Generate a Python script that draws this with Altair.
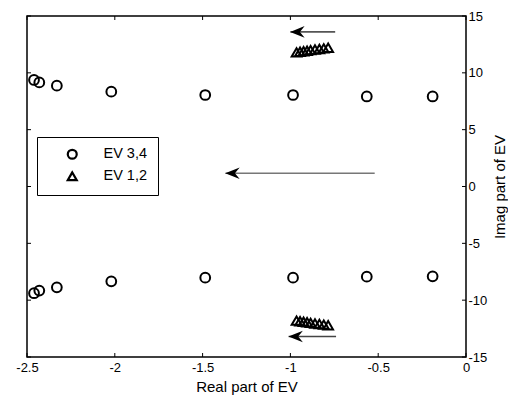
import altair as alt
import pandas as pd

# Eigenvalue traces
ev34_re = [-2.46, -2.43, -2.33, -2.02, -1.485, -0.985, -0.565, -0.19]
ev34_im_upper = [9.37, 9.16, 8.87, 8.34, 8.05, 8.05, 7.92, 7.92]
ev34_im_lower = [-9.39, -9.16, -8.87, -8.34, -8.02, -8.02, -7.93, -7.9]

ev12_re = [-0.965, -0.945, -0.925, -0.905, -0.885, -0.86, -0.835, -0.81, -0.785]
ev12_im_upper = [11.8, 11.85, 11.9, 11.95, 12.0, 12.05, 12.1, 12.15, 12.2]
ev12_im_lower = [-11.8, -11.85, -11.9, -11.95, -12.0, -12.05, -12.1, -12.15, -12.2]

# Arrows (start x, end x, y)
arrow_x_start = [-0.745, -0.52, -0.74]
arrow_x_end = [-1.0, -1.37, -1.01]
arrow_y = [13.6, 1.16, -13.2]
arrow_color = ["#555555", "#777777", "#444444"]

x_ticks = [-2.5, -2.0, -1.5, -1.0, -0.5, 0.0]
y_ticks = [-15, -10, -5, 0, 5, 10, 15]

series_names = ["EV 3,4", "EV 1,2"]

W, H = 439, 341
FONT = "Liberation Sans"

rows = []
for x, y in zip(ev34_re, ev34_im_upper):
    rows.append({"re": x, "im": y, "series": "EV 3,4"})
for x, y in zip(ev34_re, ev34_im_lower):
    rows.append({"re": x, "im": y, "series": "EV 3,4"})
for x, y in zip(ev12_re, ev12_im_upper):
    rows.append({"re": x, "im": y, "series": "EV 1,2"})
for x, y in zip(ev12_re, ev12_im_lower):
    rows.append({"re": x, "im": y, "series": "EV 1,2"})
pts = pd.DataFrame(rows)

arrows = pd.DataFrame({"x0": arrow_x_start, "x1": arrow_x_end, "y": arrow_y, "c": arrow_color})
xt = pd.DataFrame({"v": x_ticks})
yt = pd.DataFrame({"v": y_ticks})

xscale = alt.Scale(domain=[-2.5, 0], nice=False, zero=False)
yscale = alt.Scale(domain=[-15, 15], nice=False, zero=False)

xaxis = alt.Axis(values=x_ticks, ticks=False, domain=False, grid=False, labelFontSize=13,
                 labelFont=FONT, labelColor="black", labelPadding=4, title="Real part of EV",
                 titleFont=FONT, titleFontSize=15, titleFontWeight="normal", titleColor="black",
                 titlePadding=5, labelFlush=False, labelExpr="toString(datum.value)")
yaxis = alt.Axis(values=y_ticks, orient="right", ticks=False, domain=False, grid=False,
                 labelFontSize=13, labelFont=FONT, labelColor="black", labelPadding=2,
                 title="Imag part of EV", titleFont=FONT, titleFontSize=15,
                 titleFontWeight="normal", titleColor="black", titleAngle=270,
                 titlePadding=21, labelFlush=False, labelExpr="toString(datum.value)")

points = alt.Chart(pts).mark_point(filled=False, strokeWidth=2, color="black", opacity=1).encode(
    x=alt.X("re:Q", scale=xscale, axis=xaxis),
    y=alt.Y("im:Q", scale=yscale, axis=yaxis),
    shape=alt.Shape("series:N",
                    scale=alt.Scale(domain=series_names, range=["circle", "triangle-up"]),
                    legend=alt.Legend(title=None, orient="none", legendX=10, legendY=121,
                                      strokeColor="black", fillColor="white", padding=10,
                                      symbolOffset=18, labelOffset=24, labelFontSize=14.5,
                                      labelFont=FONT, labelColor="black", rowPadding=3,
                                      symbolStrokeColor="black", symbolStrokeWidth=2.2,
                                      symbolFillColor="transparent", symbolSize=80,
                                      symbolOpacity=1, cornerRadius=0)),
    size=alt.value(95),
)

arrow_lines = alt.Chart(arrows).mark_rule(strokeWidth=1.6).encode(
    x=alt.X("x0:Q", scale=xscale),
    x2="x1:Q",
    y=alt.Y("y:Q", scale=yscale),
    color=alt.Color("c:N", scale=None),
)

head_path = "M -1 0 L 1 -0.8 L 0.35 0 L 1 0.8 Z"
arrow_heads = alt.Chart(arrows).mark_point(shape=head_path, filled=True, color="black",
                                           opacity=1, xOffset=7, size=210).encode(
    x=alt.X("x1:Q", scale=xscale),
    y=alt.Y("y:Q", scale=yscale),
)

tick_len = 4
xt_bottom = alt.Chart(xt).mark_rule(color="black", strokeWidth=1).encode(
    x=alt.X("v:Q", scale=xscale), y=alt.value(H), y2=alt.value(H - tick_len))
xt_top = alt.Chart(xt).mark_rule(color="black", strokeWidth=1).encode(
    x=alt.X("v:Q", scale=xscale), y=alt.value(0), y2=alt.value(tick_len))
yt_left = alt.Chart(yt).mark_rule(color="black", strokeWidth=1).encode(
    y=alt.Y("v:Q", scale=yscale), x=alt.value(0), x2=alt.value(tick_len))
yt_right = alt.Chart(yt).mark_rule(color="black", strokeWidth=1).encode(
    y=alt.Y("v:Q", scale=yscale), x=alt.value(W), x2=alt.value(W - tick_len))

chart = alt.layer(
    xt_bottom, xt_top, yt_left, yt_right, arrow_lines, arrow_heads, points
).properties(
    width=W, height=H,
    autosize=alt.AutoSizeParams(type="none"),
    padding={"left": 27, "top": 16, "right": 42, "bottom": 43},
    background="white",
).configure_view(
    stroke="black", strokeWidth=1.5
)

chart.save("out.html", embed_options={"renderer": "svg", "actions": False})
